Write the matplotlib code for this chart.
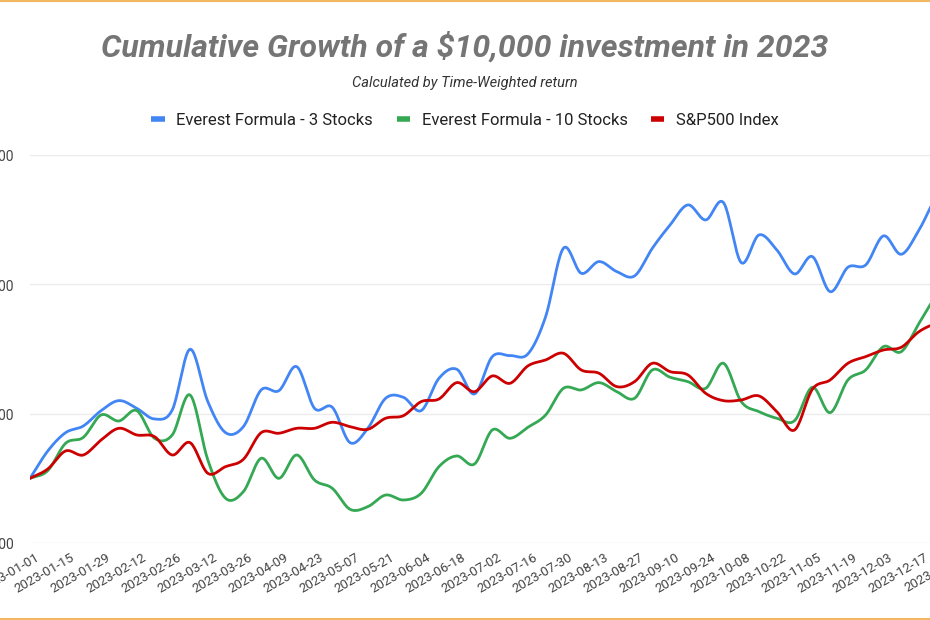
import numpy as np
import pandas as pd
import matplotlib
matplotlib.use("Agg")
import matplotlib.pyplot as plt
import matplotlib.dates as mdates
import matplotlib.transforms as mtrans
from matplotlib.lines import Line2D
from matplotlib.ticker import FuncFormatter, FixedLocator

plt.rcParams['font.family'] = ['Roboto', 'DejaVu Sans']

# ---------------- data ----------------
dates = pd.date_range("2023-01-01", "2023-12-31", freq="7D")

series_names = ["Everest Formula - 3 Stocks", "Everest Formula - 10 Stocks", "S&P500 Index"]

stocks3 = [10000, 10423, 10706, 10810, 11047, 11202, 11083, 10918, 11057, 11996,
           11186, 10706, 10799, 11367, 11356, 11727, 11083, 11099, 10552, 10774,
           11238, 11253, 11047, 11547, 11687, 11305, 11882, 11898, 11923, 12501,
           13558, 13171, 13352, 13197, 13130, 13558, 13919, 14228, 13996, 14264,
           13336, 13764, 13532, 13161, 13429, 12887, 13264, 13300, 13749, 13465,
           13841, 14357, 14550]

stocks10 = [10000, 10119, 10542, 10634, 10980, 10887, 11047, 10620, 10671, 11289,
            10284, 9691, 9794, 10310, 10000, 10361, 9974, 9846, 9521, 9562,
            9742, 9665, 9768, 10181, 10346, 10222, 10748, 10619, 10789, 10980,
            11392, 11367, 11480, 11341, 11238, 11676, 11563, 11495, 11392, 11779,
            11186, 11031, 10929, 10892, 11408, 11016, 11521, 11676, 12037, 11959,
            12398, 12836, 13100]

sp500 = [10000, 10145, 10423, 10361, 10593, 10774, 10671, 10645, 10361, 10552,
         10078, 10181, 10294, 10706, 10697, 10774, 10774, 10867, 10799, 10758,
         10929, 10969, 11186, 11227, 11480, 11340, 11583, 11470, 11738, 11831,
         11934, 11676, 11625, 11418, 11495, 11779, 11650, 11599, 11315, 11201,
         11212, 11274, 11031, 10748, 11377, 11521, 11779, 11882, 11985, 12027,
         12269, 12398, 12450]

y_ticks = [9000, 11000, 13000, 15000]
colors = ["#4285F4", "#34A853", "#CC0000"]


def smooth(xn, yn, per=20):
    """Catmull-Rom style cubic Hermite smoothing through the data points."""
    xn = np.asarray(xn, float)
    yn = np.asarray(yn, float)
    n = len(xn)
    m = np.zeros(n)
    m[1:-1] = (yn[2:] - yn[:-2]) / (xn[2:] - xn[:-2])
    m[0] = (yn[1] - yn[0]) / (xn[1] - xn[0])
    m[-1] = (yn[-1] - yn[-2]) / (xn[-1] - xn[-2])
    xs, ys = [], []
    for i in range(n - 1):
        h = xn[i + 1] - xn[i]
        t = np.linspace(0, 1, per, endpoint=False)
        h00 = 2 * t**3 - 3 * t**2 + 1
        h10 = t**3 - 2 * t**2 + t
        h01 = -2 * t**3 + 3 * t**2
        h11 = t**3 - t**2
        xs.append(xn[i] + t * h)
        ys.append(h00 * yn[i] + h10 * h * m[i] + h01 * yn[i + 1] + h11 * h * m[i + 1])
    xs.append([xn[-1]])
    ys.append([yn[-1]])
    return np.concatenate(xs), np.concatenate(ys)


# ---------------- figure ----------------
W, H = 930, 620
fig = plt.figure(figsize=(W / 100, H / 100), dpi=100)
fig.patch.set_facecolor("white")

x_left, x_right = 30, 954.6
y_top, y_bot = 155, 543
ax = fig.add_axes([x_left / W, 1 - y_bot / H, (x_right - x_left) / W, (y_bot - y_top) / H])
ax.set_facecolor("none")

xnum = mdates.date2num(dates)
for vals, col, name in zip([stocks3, stocks10, sp500], colors, series_names):
    sx, sy = smooth(xnum, vals)
    ax.plot(sx, sy, color=col, lw=2.0, label=name, solid_capstyle="round", zorder=3)

ax.set_xlim(xnum[0], xnum[-1])
ax.set_ylim(y_ticks[0], y_ticks[-1])
ax.yaxis.set_major_locator(FixedLocator(y_ticks))
ax.yaxis.set_major_formatter(FuncFormatter(lambda v, p: f"{int(v):,}"))
ax.grid(axis="y", color="#ebebeb", lw=1.0, zorder=0)
ax.set_axisbelow(True)
for s in ax.spines.values():
    s.set_visible(False)

tick_dates = pd.date_range("2023-01-01", "2023-12-31", freq="14D")
ax.xaxis.set_major_locator(FixedLocator(mdates.date2num(tick_dates)))
ax.xaxis.set_major_formatter(mdates.DateFormatter("%Y-%m-%d"))
ax.tick_params(axis="x", length=0, pad=5.5, labelsize=9.5, labelcolor="#444444")
ax.tick_params(axis="y", length=0, pad=11.5, labelsize=10, labelcolor="#444444")
shift = mtrans.ScaledTranslation(5 / 100, 0, fig.dpi_scale_trans)
for lab in ax.get_xticklabels():
    lab.set_rotation(30)
    lab.set_ha("right")
    lab.set_va("top")
    lab.set_rotation_mode("anchor")
    lab.set_transform(lab.get_transform() + shift)

# ---------------- texts ----------------
fig.text(0.5, 1 - 47 / H, "Cumulative Growth of a $10,000 investment in 2023",
         ha="center", va="center", fontsize=23, fontweight="bold", style="italic",
         color="#757575")
fig.text(0.5, 1 - 83 / H, "Calculated by Time-Weighted return",
         ha="center", va="center", fontsize=10.5, style="italic", color="#333333")

handles = [Line2D([0], [0], color=c, lw=4, solid_capstyle="butt") for c in colors]
fig.legend(handles, series_names, loc="center", bbox_to_anchor=(0.5, 1 - 120 / H),
           ncol=3, frameon=False, fontsize=12, handlelength=0.8, handletextpad=0.7,
           columnspacing=1.4, labelcolor="#222222")

# page border lines (orange)
fig.add_artist(Line2D([0, 1], [1 - 1 / H, 1 - 1 / H], transform=fig.transFigure,
                      color="#F2B860", lw=1.5))
fig.add_artist(Line2D([0, 1], [1 - 618.5 / H, 1 - 618.5 / H], transform=fig.transFigure,
                      color="#F2B860", lw=1.5))

fig.savefig("out.png", dpi=100, facecolor="white")
